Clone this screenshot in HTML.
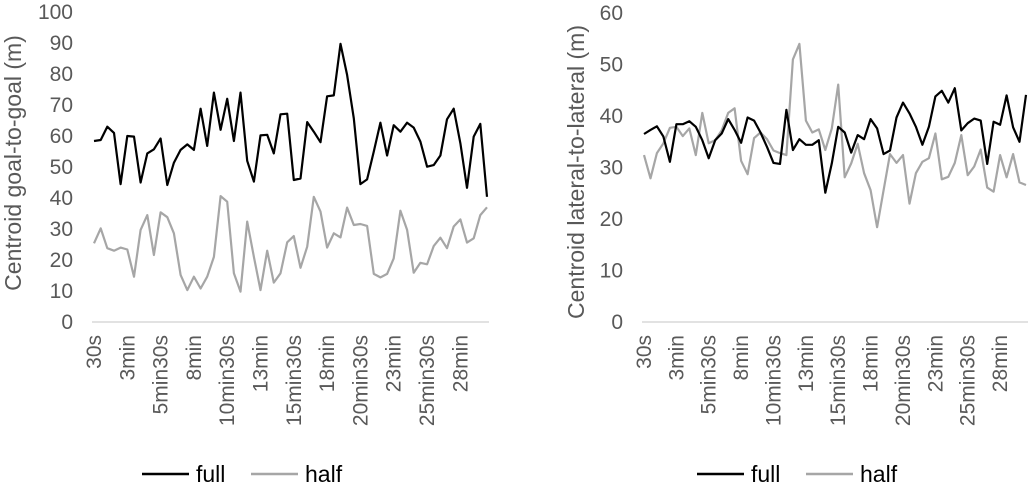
<!DOCTYPE html>
<html><head><meta charset="utf-8"><style>
body{margin:0;background:#fff;}
svg{display:block;font-family:"Liberation Sans",sans-serif;}
</style></head><body>
<svg id="c" width="1032" height="488"></svg>
<script>
const categories=[];for(let i=1;i<=60;i++){const m=Math.floor(i/2),s=i%2?"30s":"";categories.push(m===0?"30s":(m+"min"+s));}
const tickLabels=["30s","3min","5min30s","8min","10min30s","13min","15min30s","18min","20min30s","23min","25min30s","28min"];
const goalFull=[58.4,58.7,63,61,44.5,60,59.8,45,54.4,55.7,59.2,44.2,51.4,55.5,57.3,55.5,68.8,56.8,74,62,72,58.4,74,52,45.3,60.2,60.4,54.4,67,67.2,45.8,46.3,64.5,61.4,58,72.8,73.1,89.7,79.7,65.7,44.5,46,55,64.3,53.7,63.5,61.4,64.3,62.7,58.2,50.1,50.6,53.7,65.4,68.8,57.6,43.3,59.8,63.9,40.4];
const goalHalf=[25.4,30.2,23.8,23,24,23.4,14.6,29.7,34.5,21.6,35.4,33.8,28.6,15.2,10.3,14.6,10.8,14.6,21,40.6,38.8,15.7,9.8,32.4,21,10.3,23,12.7,15.7,25.7,27.7,17.5,24.3,40.4,35.6,24,28.6,27.3,36.9,31.3,31.6,31,15.5,14.4,15.5,20.5,35.9,29.7,15.9,19.1,18.6,24.5,27.2,23.8,30.8,33.1,25.6,27,34.5,37];
const latFull=[36.5,37.3,38,36,31.1,38.4,38.4,39,37.9,35.3,31.8,35.3,36.6,39.4,37.3,34.8,39.7,39.1,36.8,34,30.9,30.7,41.2,33.4,35.5,34.4,34.4,35.3,25.1,30.8,37.9,36.8,32.9,36.3,35.5,39.4,37.6,32.6,33.3,39.7,42.6,40.5,37.9,34.4,37.9,43.8,44.9,42.6,45.4,37.2,38.6,39.5,39.1,30.7,38.9,38.3,44,37.8,35,44.1];
const latHalf=[32.4,27.9,32.8,34.7,37.7,37.9,36.1,37.6,32.4,40.6,34.7,35.3,37.2,40.6,41.5,31.3,28.7,35.7,36.8,35.5,33.3,32.8,32.4,51,54,39.1,36.8,37.4,33.4,37.6,46.1,28.1,30.8,34.6,28.9,25.6,18.4,25.6,32.6,30.9,32.4,23,28.9,31.1,31.8,36.6,27.7,28.2,30.9,36.3,28.5,30.2,33.5,26.1,25.3,32.4,28.1,32.6,27.1,26.6];
const goalTicks=[0,10,20,30,40,50,60,70,80,90,100];
const latTicks=[0,10,20,30,40,50,60];
const NS="http://www.w3.org/2000/svg";const svg=document.getElementById("c");
function mk(t,a,p){const e=document.createElementNS(NS,t);for(const k in a)e.setAttribute(k,a[k]);(p||svg).appendChild(e);return e;}
function chart(o){
  const g=mk("g",{});
  
  
  const x=i=>o.x0+(o.x1-o.x0)*i/59, y=v=>o.y0-(o.y0-o.yTop)*v/o.max;
  const ax=mk("line",{x1:o.x0-2,x2:o.x1+2,y1:o.y0,y2:o.y0,stroke:"#d9d9d9","stroke-width":1.5},g);
  
  o.ticks.forEach(t=>{const e=mk("text",{x:o.tx,y:y(t)+7,"text-anchor":"end","font-size":21,fill:"#595959"},g);e.textContent=t;
    });
  tickLabels.forEach((l,k)=>{const xx=x(k*5)+7;const e=mk("text",{x:0,y:0,transform:`translate(${xx},335) rotate(-90)`,"text-anchor":"end","font-size":21,fill:"#595959"},g);e.textContent=l;
    });
  const tt=mk("text",{x:0,y:0,transform:`translate(${o.titleX},${o.titleY}) rotate(-90)`,"text-anchor":"middle","font-size":23,fill:"#595959"},g);tt.textContent=o.title;
  
  [[o.half,"#a6a6a6","half-line"],[o.full,"#000","full-line"]].forEach(([d,c,n])=>{
    const p=mk("polyline",{points:d.map((v,i)=>x(i).toFixed(1)+","+y(v).toFixed(1)).join(" "),fill:"none",stroke:c,"stroke-width":2.2,"stroke-linejoin":"round"},g);
    });
  const L=o.leg;
  [[L,"#000","full","legend-entry-full"],[L+109,"#a6a6a6","half","legend-entry-half"]].forEach(([lx,c,t,n])=>{
    const lg=mk("g",{},g);
    mk("line",{x1:lx,x2:lx+47,y1:474,y2:474,stroke:c,"stroke-width":2.5},lg);
    const e=mk("text",{x:lx+54,y:482,"font-size":23,fill:"#000"},lg);e.textContent=t;});
}
chart({name:"goal-to-goal-chart",x0:94,x1:487,y0:322,yTop:12,max:100,ticks:goalTicks,tx:73,full:goalFull,half:goalHalf,title:"Centroid goal-to-goal (m)",titleX:21,titleY:163,leg:142});
chart({name:"lateral-to-lateral-chart",x0:644,x1:1026,y0:322,yTop:13,max:60,ticks:latTicks,tx:623,full:latFull,half:latHalf,title:"Centroid lateral-to-lateral  (m)",titleX:584,titleY:172,leg:697});
</script>
</body></html>
